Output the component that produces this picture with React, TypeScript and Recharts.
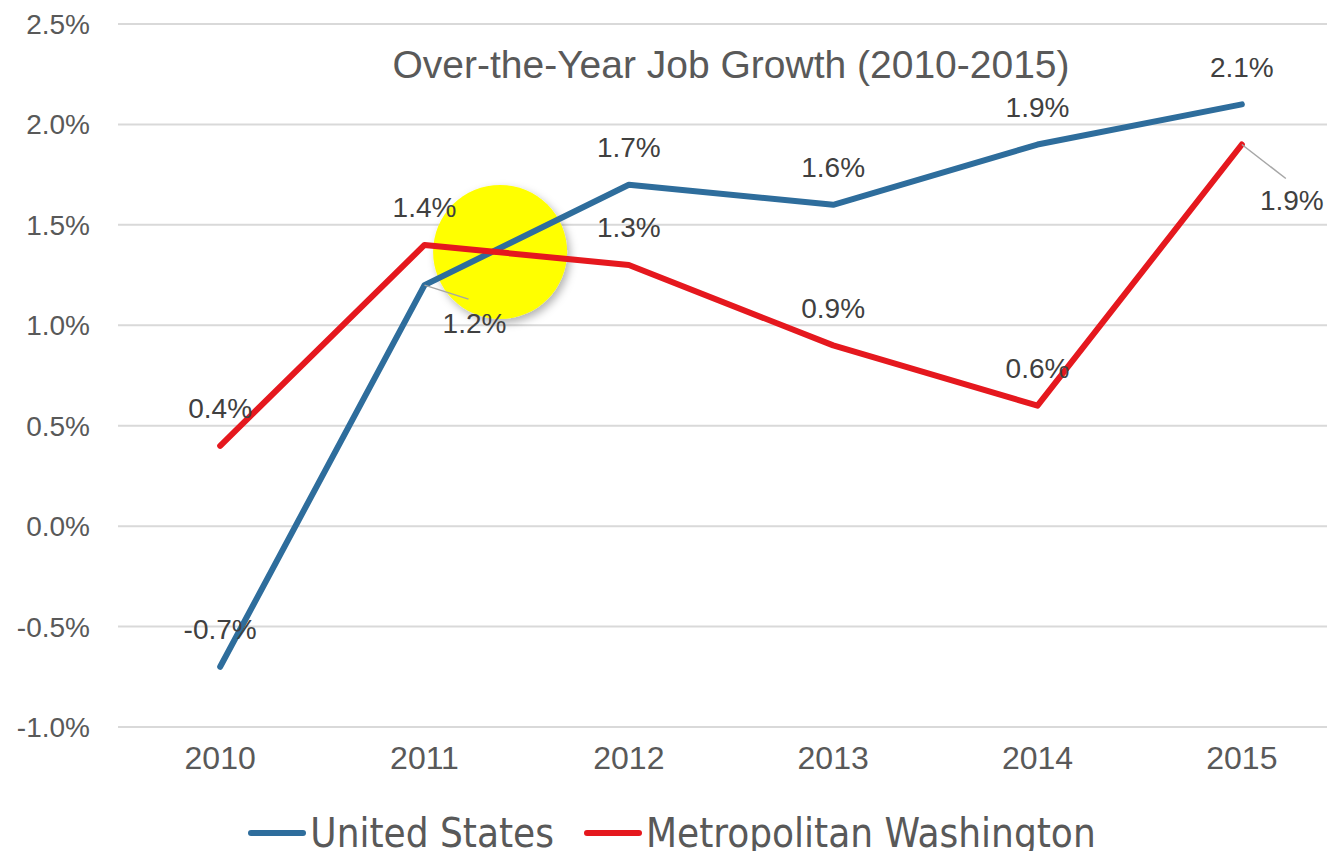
import React from "react";
import {
  LineChart,
  Line,
  XAxis,
  YAxis,
  CartesianGrid,
  Legend,
  LabelList,
  ReferenceDot,
} from "recharts";

const years = [2010, 2011, 2012, 2013, 2014, 2015];
const unitedStates = [-0.7, 1.2, 1.7, 1.6, 1.9, 2.1];
const metroWashington = [0.4, 1.4, 1.3, 0.9, 0.6, 1.9];
const yTicks = [-1.0, -0.5, 0.0, 0.5, 1.0, 1.5, 2.0, 2.5];
const seriesNames = ["United States", "Metropolitan Washington"];

// highlight circle position in data units (between 2011 and 2012)
const highlight = { year: 2011.37, value: 1.365 };

const BLUE = "#2E6D9C";
const RED = "#E5181E";
const GRID = "#d9d9d9";
const AXIS_TEXT = "#595959";
const LABEL_TEXT = "#404040";
const FONT = "'Liberation Sans', Arial, sans-serif";
const NARROW = "'Liberation Sans Narrow', 'DejaVu Sans Condensed', 'Liberation Sans', sans-serif";

const data = years.map((year, i) => ({
  year,
  us: unitedStates[i],
  metro: metroWashington[i],
}));

// labels that sit below-right of their point with a leader line
const usCallouts: Record<number, boolean> = { 1: true };
const metroCallouts: Record<number, boolean> = { 5: true };

function makeLabel(callouts: Record<number, boolean>) {
  return (props: any) => {
    const { x, y, value, index } = props;
    const text = `${Number(value).toFixed(1)}%`;
    if (callouts[index]) {
      return (
        <g>
          <line x1={x} y1={y} x2={x + 44} y2={y + 14 + (index === 5 ? 20 : 0)} stroke="#a6a6a6" strokeWidth={1.5} />
          <text
            x={x + 50}
            y={y + (index === 5 ? 58 : 40)}
            textAnchor="middle"
            fontSize={28}
            fontFamily={FONT}
            fill={LABEL_TEXT}
            dominantBaseline="middle"
          >
            {text}
          </text>
        </g>
      );
    }
    return (
      <text
        x={x}
        y={y - 35}
        textAnchor="middle"
        fontSize={28}
        fontFamily={FONT}
        fill={LABEL_TEXT}
        dominantBaseline="middle"
      >
        {text}
      </text>
    );
  };
}

function LegendContent(props: any) {
  const items = [...(props.payload || [])].sort(
    (a: any, b: any) => seriesNames.indexOf(a.value) - seriesNames.indexOf(b.value)
  );
  return (
    <div
      style={{
        height: 60,
        display: "flex",
        justifyContent: "center",
        alignItems: "flex-end",
        fontFamily: NARROW,
        fontSize: 40,
        color: AXIS_TEXT,
      }}
    >
      {items.map((p: any, i: number) => (
        <div
          key={p.value}
          style={{ display: "flex", alignItems: "center", marginLeft: i === 0 ? 0 : 30, marginBottom: -6 }}
        >
          <svg width={58} height={12} style={{ marginRight: 4 }}>
            <line x1={3} y1={6} x2={55} y2={6} stroke={p.color} strokeWidth={6} strokeLinecap="round" />
          </svg>
          <span style={{ lineHeight: "48px" }}>{p.value}</span>
        </div>
      ))}
    </div>
  );
}

export default function App() {
  return (
    <div
      style={{
        position: "absolute",
        left: 0,
        top: 0,
        width: 1327,
        height: 851,
        overflow: "hidden",
        background: "#fff",
      }}
    >
      <svg width={0} height={0} style={{ position: "absolute" }}>
        <defs>
          <filter id="circleShadow" x="-30%" y="-30%" width="160%" height="160%">
            <feDropShadow dx={3} dy={4} stdDeviation={4} floodColor="#000" floodOpacity={0.3} />
          </filter>
        </defs>
      </svg>
      <LineChart
        width={1345}
        height={851}
        data={data}
        margin={{ top: 24, right: 1, left: 0, bottom: 0 }}
      >
        <CartesianGrid vertical={false} stroke={GRID} strokeWidth={2} />
        <XAxis
          dataKey="year"
          type="number"
          domain={[2009.5, 2015.5]}
          ticks={years}
          axisLine={false}
          tickLine={false}
          tickSize={0}
          tickMargin={19}
          height={64}
          tick={{ fontSize: 32, fill: AXIS_TEXT, fontFamily: FONT }}
        />
        <YAxis
          domain={[-1, 2.5]}
          ticks={yTicks}
          width={118}
          axisLine={false}
          tickLine={false}
          tickSize={0}
          tickMargin={28}
          tickFormatter={(v: number) => `${v.toFixed(1)}%`}
          tick={{ fontSize: 28, fill: AXIS_TEXT, fontFamily: FONT }}
        />
        <ReferenceDot
          x={highlight.year}
          y={highlight.value}
          r={67}
          zIndex={100}
          ifOverflow="visible"
          shape={(p: any) => (
            <circle cx={p.cx} cy={p.cy} r={67} fill="#FFFF00" filter="url(#circleShadow)" />
          )}
        />
        <Legend verticalAlign="bottom" content={<LegendContent />} />
        <Line
          dataKey="us"
          name="United States"
          stroke={BLUE}
          strokeWidth={6}
          strokeLinecap="round"
          strokeLinejoin="round"
          dot={false}
          activeDot={false}
          isAnimationActive={false}
        >
          <LabelList dataKey="us" content={makeLabel(usCallouts)} />
        </Line>
        <Line
          dataKey="metro"
          name="Metropolitan Washington"
          stroke={RED}
          strokeWidth={6}
          strokeLinecap="round"
          strokeLinejoin="round"
          dot={false}
          activeDot={false}
          isAnimationActive={false}
        >
          <LabelList dataKey="metro" content={makeLabel(metroCallouts)} />
        </Line>
      </LineChart>
      <div
        style={{
          position: "absolute",
          left: 118,
          width: 1226,
          top: 40,
          textAlign: "center",
          fontFamily: FONT,
          fontSize: 39,
          color: AXIS_TEXT,
          lineHeight: "50px",
        }}
      >
        Over-the-Year Job Growth (2010-2015)
      </div>
    </div>
  );
}
